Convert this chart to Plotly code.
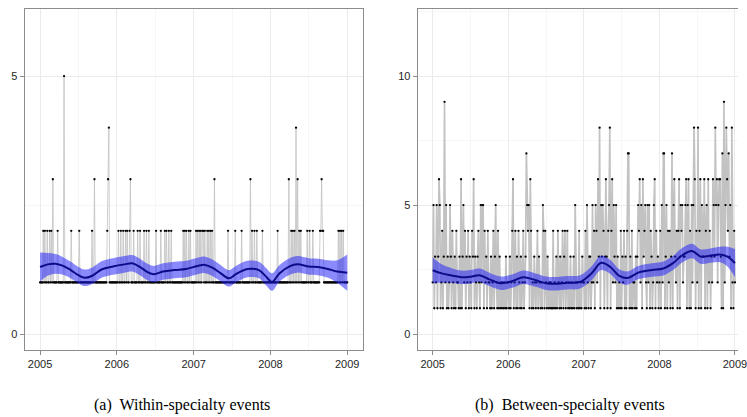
import plotly.graph_objects as go

# ---------------- data (daily-event counts, 8 samples per month) ----------------
years = [2005, 2006, 2007, 2008]
slots_per_year = 96

within_2005 = "11112121 12112121 31111121 11111151 11111112 11111111 12111111 11111111 12113111 11111111 11112341 11111111"
within_2006 = "11211211 21121211 23111211 11211211 11211211 21111111 12111112 11112121 12112111 11111111 11121212 11212111"
within_2007 = "11121212 12122121 12121212 11311111 11111111 11121111 11112111 11112111 11111113 12112112 11111121 11111111"
within_2008 = "11111111 12111111 11111113 11212121 41312121 11111121 12111211 11111122 32211111 11111111 11111212 12121111"
within_end = 1

between_2005 = "25132513 65124139 25131253 14213142 21316135 24132413 21436132 13421525 51423142 21312413 52141312 12121312"
between_2006 = "21312461 24131421 31241237 54516412 13212413 21215414 21312121 14121314 21312413 41241213 12131521 21412132"
between_2007 = "21415213 31252415 42638153 54136314 58146253 25131214 13241314 77131412 21313546 25163452 15251431 25614231"
between_2008 = "24152771 35142413 71563241 46154523 35615614 15258614 28146153 36145162 41326538 56256631 71925864 73518214"
between_end = 2

# loess smooth: time, fitted value, half-width of band
smooth_a_t = [2005.00, 2005.10, 2005.20, 2005.30, 2005.40, 2005.50, 2005.58, 2005.68, 2005.80, 2005.95,
              2006.10, 2006.20, 2006.30, 2006.40, 2006.48, 2006.60, 2006.75, 2006.90, 2007.05, 2007.15,
              2007.25, 2007.35, 2007.46, 2007.55, 2007.70, 2007.85, 2007.95, 2008.02, 2008.12, 2008.25,
              2008.35, 2008.50, 2008.62, 2008.75, 2008.87, 2009.00]
smooth_a_fit = [1.30, 1.35, 1.36, 1.32, 1.24, 1.14, 1.09, 1.13, 1.25, 1.31,
                1.35, 1.37, 1.30, 1.20, 1.16, 1.21, 1.24, 1.26, 1.32, 1.34,
                1.28, 1.18, 1.08, 1.16, 1.26, 1.24, 1.10, 1.01, 1.18, 1.31,
                1.35, 1.31, 1.30, 1.26, 1.21, 1.19]
smooth_a_hw = [0.28, 0.22, 0.19, 0.17, 0.16, 0.16, 0.16, 0.16, 0.16, 0.16,
               0.16, 0.16, 0.16, 0.16, 0.16, 0.16, 0.16, 0.16, 0.16, 0.16,
               0.16, 0.16, 0.16, 0.16, 0.16, 0.16, 0.17, 0.17, 0.16, 0.16,
               0.16, 0.16, 0.16, 0.17, 0.22, 0.35]

smooth_b_t = [2005.00, 2005.12, 2005.25, 2005.38, 2005.50, 2005.62, 2005.75, 2005.90, 2006.05, 2006.20,
              2006.35, 2006.50, 2006.62, 2006.78, 2006.95, 2007.10, 2007.23, 2007.35, 2007.47, 2007.58,
              2007.72, 2007.90, 2008.05, 2008.18, 2008.30, 2008.43, 2008.55, 2008.70, 2008.80, 2008.90,
              2009.00]
smooth_b_fit = [2.47, 2.35, 2.27, 2.20, 2.22, 2.28, 2.12, 1.97, 2.05, 2.20,
                2.10, 1.97, 1.95, 1.99, 2.02, 2.35, 2.76, 2.60, 2.25, 2.17,
                2.38, 2.48, 2.54, 2.75, 3.05, 3.22, 3.00, 3.05, 3.08, 3.00,
                2.75]
smooth_b_hw = [0.50, 0.35, 0.28, 0.26, 0.26, 0.26, 0.26, 0.26, 0.26, 0.26,
               0.26, 0.26, 0.26, 0.26, 0.26, 0.27, 0.28, 0.27, 0.26, 0.26,
               0.26, 0.26, 0.27, 0.27, 0.28, 0.28, 0.28, 0.28, 0.30, 0.38,
               0.55]

x_ticks = [2005, 2006, 2007, 2008, 2009]
x_labels = ["2005", "2006", "2007", "2008", "2009"]
ya_ticks = [0, 5]
yb_ticks = [0, 5, 10]
captions = ["(a)\u00a0 Within-specialty events", "(b)\u00a0 Between-specialty events"]


def build(year_strings, end_value):
    t, v = [], []
    for yr, s in zip(years, year_strings):
        digits = s.replace(" ", "")
        for i, c in enumerate(digits):
            t.append(yr + i / slots_per_year)
            v.append(int(c))
    t.append(years[-1] + 1)
    v.append(end_value)
    return t, v


ta, va = build([within_2005, within_2006, within_2007, within_2008], within_end)
tb, vb = build([between_2005, between_2006, between_2007, between_2008], between_end)

W, H = 747, 417
fig = go.Figure()

GRAY = "#c2c2c2"
BAND = "rgba(30,30,250,0.52)"
NAVY = "#0c0c8a"


def add_panel(t, v, st, sf, sh, xa, ya, lw):
    fig.add_trace(go.Scatter(x=t, y=v, mode="lines", line=dict(color=GRAY, width=lw),
                             xaxis=xa, yaxis=ya, showlegend=False, hoverinfo="skip"))
    fig.add_trace(go.Scatter(x=t, y=v, mode="markers", marker=dict(color="black", size=2.3),
                             xaxis=xa, yaxis=ya, showlegend=False, hoverinfo="skip"))
    lo = [f - h for f, h in zip(sf, sh)]
    hi = [f + h for f, h in zip(sf, sh)]
    fig.add_trace(go.Scatter(x=st, y=lo, mode="lines", line=dict(width=0, shape="spline"),
                             xaxis=xa, yaxis=ya, showlegend=False, hoverinfo="skip"))
    fig.add_trace(go.Scatter(x=st, y=hi, mode="lines", line=dict(width=0, shape="spline"),
                             fill="tonexty", fillcolor=BAND,
                             xaxis=xa, yaxis=ya, showlegend=False, hoverinfo="skip"))
    fig.add_trace(go.Scatter(x=st, y=sf, mode="lines", line=dict(color=NAVY, width=2, shape="spline"),
                             xaxis=xa, yaxis=ya, showlegend=False, hoverinfo="skip"))


add_panel(ta, va, smooth_a_t, smooth_a_fit, smooth_a_hw, "x", "y", 0.8)
add_panel(tb, vb, smooth_b_t, smooth_b_fit, smooth_b_hw, "x2", "y2", 1.7)

tickfont = dict(family="Liberation Sans, Arial, sans-serif", size=11, color="#262626")
LINE = "#8c8c8c"
GRID = "#ebebeb"
MINOR = "#f6f6f6"

ydom = [1 - 349.5 / H, 1 - 9 / H]
common_x = dict(tickvals=x_ticks, ticktext=x_labels, ticks="outside", ticklen=4, tickcolor=LINE,
                showline=True, linecolor=LINE, linewidth=1, mirror=True,
                showgrid=True, gridcolor=GRID, gridwidth=1, zeroline=False, tickfont=tickfont,
                minor=dict(dtick=0.5, tick0=2005, showgrid=True, gridcolor=MINOR, ticks=""))
fig.update_layout(
    width=W, height=H, margin=dict(l=0, r=0, t=0, b=0),
    paper_bgcolor="white", plot_bgcolor="white",
    xaxis=dict(domain=[25 / W, 367 / W], range=[2004.8, 2009.2], anchor="y", **common_x),
    xaxis2=dict(domain=[422.7 / W, 1.0], range=[2004.8, 2009.04], anchor="y2",
                ticklabeloverflow="allow", **common_x),
    yaxis=dict(domain=ydom, range=[-0.3, 6.3], tickvals=ya_ticks, ticks="outside", ticklen=4,
               tickcolor=LINE, showline=True, linecolor=LINE, linewidth=1, mirror=True,
               showgrid=True, gridcolor=GRID, zeroline=False, tickfont=tickfont, anchor="x",
               minor=dict(dtick=2.5, tick0=0, showgrid=True, gridcolor=MINOR, ticks="")),
    yaxis2=dict(domain=ydom, range=[-0.6, 12.6], tickvals=yb_ticks, ticks="outside", ticklen=4,
                tickcolor=LINE, showline=True, linecolor=LINE, linewidth=1, mirror=False,
                showgrid=True, gridcolor=GRID, zeroline=False, tickfont=tickfont, anchor="x2",
                minor=dict(dtick=2.5, tick0=0, showgrid=True, gridcolor=MINOR, ticks="")),
    annotations=[
        dict(text=captions[0], x=184 / W, y=1 - 405 / H, xref="paper", yref="paper",
             showarrow=False, xanchor="center", yanchor="middle",
             font=dict(family="Liberation Serif, Times New Roman, serif", size=16, color="black")),
        dict(text=captions[1], x=577 / W, y=1 - 405 / H, xref="paper", yref="paper",
             showarrow=False, xanchor="center", yanchor="middle",
             font=dict(family="Liberation Serif, Times New Roman, serif", size=16, color="black")),
    ],
)

fig.write_html("out.html", config={"displayModeBar": False},
               post_script="document.body.style.margin='0';document.body.style.overflow='hidden';")
